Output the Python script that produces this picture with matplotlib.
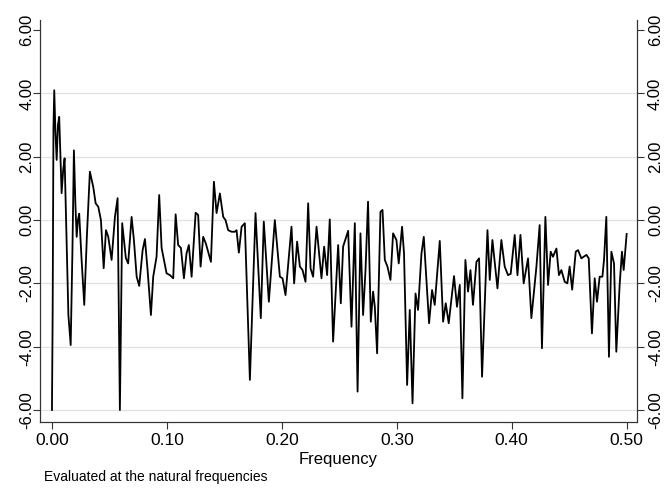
import matplotlib
matplotlib.use("Agg")
import matplotlib.pyplot as plt

freq = [0.0000, 0.0006, 0.0013, 0.0020, 0.0030, 0.0041, 0.0052, 0.0063, 0.0074, 0.0084,
        0.0098, 0.0110, 0.0126, 0.0143, 0.0163, 0.0178, 0.0191, 0.0204, 0.0215, 0.0226,
        0.0237, 0.0257, 0.0281, 0.0304, 0.0330, 0.0359, 0.0380, 0.0403, 0.0426, 0.0450,
        0.0470, 0.0490, 0.0519, 0.0548, 0.0571, 0.0591, 0.0611, 0.0643, 0.0663, 0.0693,
        0.0713, 0.0737, 0.0759, 0.0789, 0.0809, 0.0832, 0.0861, 0.0881, 0.0910, 0.0933,
        0.0954, 0.0997, 0.1026, 0.1055, 0.1076, 0.1098, 0.1122, 0.1148, 0.1171, 0.1191,
        0.1215, 0.1250, 0.1272, 0.1293, 0.1316, 0.1339, 0.1383, 0.1409, 0.1432, 0.1461,
        0.1490, 0.1510, 0.1533, 0.1563, 0.1591, 0.1606, 0.1626, 0.1650, 0.1678, 0.1722,
        0.1771, 0.1817, 0.1843, 0.1887, 0.1939, 0.1983, 0.2006, 0.2032, 0.2084, 0.2107,
        0.2133, 0.2157, 0.2180, 0.2206, 0.2229, 0.2250, 0.2272, 0.2302, 0.2345, 0.2368,
        0.2394, 0.2417, 0.2446, 0.2490, 0.2513, 0.2533, 0.2577, 0.2606, 0.2635, 0.2659,
        0.2684, 0.2707, 0.2728, 0.2750, 0.2774, 0.2794, 0.2809, 0.2829, 0.2858, 0.2876,
        0.2896, 0.2919, 0.2945, 0.2968, 0.2997, 0.3017, 0.3046, 0.3063, 0.3090, 0.3113,
        0.3137, 0.3163, 0.3185, 0.3215, 0.3235, 0.3281, 0.3307, 0.3330, 0.3374, 0.3403,
        0.3426, 0.3452, 0.3498, 0.3524, 0.3548, 0.3571, 0.3597, 0.3620, 0.3641, 0.3663,
        0.3693, 0.3716, 0.3742, 0.3789, 0.3809, 0.3832, 0.3876, 0.3910, 0.3939, 0.3968,
        0.3991, 0.4026, 0.4050, 0.4076, 0.4104, 0.4142, 0.4171, 0.4215, 0.4243, 0.4263,
        0.4293, 0.4316, 0.4339, 0.4359, 0.4389, 0.4411, 0.4432, 0.4461, 0.4484, 0.4504,
        0.4526, 0.4557, 0.4577, 0.4606, 0.4650, 0.4670, 0.4698, 0.4722, 0.4742, 0.4765,
        0.4789, 0.4803, 0.4823, 0.4846, 0.4867, 0.4890, 0.4910, 0.4939, 0.4959, 0.4974,
        0.5000]

log_periodogram = [-6.00, -3.00, 2.90, 4.10, 2.80, 1.90, 3.00, 3.26, 2.00, 0.85,
                   1.60, 1.95, -0.50, -3.00, -3.95, -1.00, 2.20, 0.50, -0.53, 0.00,
                   0.20, -1.20, -2.68, -0.50, 1.53, 1.05, 0.53, 0.42, 0.00, -1.52,
                   -0.32, -0.53, -1.26, 0.10, 0.69, -6.00, -0.10, -1.20, -1.37, 0.10,
                   -0.63, -1.79, -2.08, -0.95, -0.60, -1.58, -3.00, -1.79, -1.16, 0.79,
                   -0.88, -1.68, -1.74, -1.84, 0.18, -0.79, -0.88, -1.84, -1.05, -0.79,
                   -1.79, 0.23, 0.16, -1.47, -0.53, -0.74, -1.32, 1.21, 0.22, 0.84,
                   0.10, 0.00, -0.32, -0.37, -0.37, -0.32, -1.03, -0.21, -0.10, -5.05,
                   0.22, -3.10, -0.05, -2.58, 0.00, -1.79, -1.84, -2.37, -0.21, -2.00,
                   -0.68, -1.47, -1.58, -1.95, 0.53, -1.53, -1.79, -0.21, -1.84, -0.84,
                   -1.74, 0.02, -3.84, -0.79, -2.63, -0.84, -0.34, -3.37, -0.10, -5.42,
                   -0.42, -3.00, -1.58, 0.58, -3.21, -2.26, -2.74, -4.21, 0.26, 0.32,
                   -1.26, -1.47, -1.89, -0.42, -0.63, -1.37, -0.21, -1.05, -5.21, -2.84,
                   -5.79, -2.32, -2.84, -1.05, -0.53, -3.26, -2.21, -2.68, -0.66, -3.21,
                   -2.63, -3.26, -1.77, -2.74, -2.05, -5.63, -1.26, -2.26, -1.58, -2.68,
                   -1.32, -1.21, -4.95, -0.32, -1.89, -0.63, -2.16, -0.63, -1.47, -1.74,
                   -1.70, -0.47, -1.74, -0.47, -2.00, -1.21, -3.10, -1.47, -0.16, -4.05,
                   0.10, -2.05, -1.00, -1.16, -0.90, -1.74, -1.58, -1.95, -2.00, -1.47,
                   -2.20, -1.00, -0.95, -1.21, -1.10, -1.21, -3.58, -1.84, -2.58, -1.79,
                   -1.79, -1.26, 0.10, -4.32, -1.00, -1.37, -4.16, -2.05, -1.00, -1.58,
                   -0.44]

yticks = [-6, -4, -2, 0, 2, 4, 6]
ytick_labels = ["-6.00", "-4.00", "-2.00", "0.00", "2.00", "4.00", "6.00"]
xticks = [0.0, 0.1, 0.2, 0.3, 0.4, 0.5]
xtick_labels = ["0.00", "0.10", "0.20", "0.30", "0.40", "0.50"]

plt.rcParams['font.family'] = ['Liberation Sans', 'DejaVu Sans']

fig = plt.figure(figsize=(6.65, 4.88), dpi=100)
ax = fig.add_axes([40/665, 66/488, 597/665, 402/488])

for yt in yticks[:-1]:
    ax.axhline(yt, color='#e3e3e3', lw=1.0, zorder=0)

ax.plot(freq, log_periodogram, color='black', lw=1.3, zorder=2)

ax.set_xlim(-0.0104, 0.509)
ax.set_ylim(-6.38, 6.32)
ax.set_xticks(xticks)
ax.set_xticklabels(xtick_labels, fontsize=12.5)
ax.set_yticks(yticks)
ax.set_yticklabels(ytick_labels, fontsize=12, rotation=90, va='center')
ax.tick_params(axis='x', direction='out', length=5, width=0.8, color='#333333', pad=3)
ax.tick_params(axis='y', direction='out', length=5, width=0.8, color='#333333', pad=-1)

ax2 = ax.twinx()
ax2.set_ylim(ax.get_ylim())
ax2.set_yticks(yticks)
ax2.set_yticklabels(ytick_labels, fontsize=12, rotation=90, va='center')
ax2.tick_params(axis='y', direction='out', length=5, width=0.8, color='#333333', pad=3)

for a in (ax, ax2):
    a.spines['top'].set_visible(False)
    for s in ['left', 'right', 'bottom']:
        a.spines[s].set_linewidth(0.8)
        a.spines[s].set_color('#333333')

ax.set_xlabel("Frequency", fontsize=12, labelpad=3)
fig.text(44/665, 1 - 477/488, "Evaluated at the natural frequencies", fontsize=10,
         ha='left', va='center')

fig.savefig("out.png", dpi=100, facecolor='white')
